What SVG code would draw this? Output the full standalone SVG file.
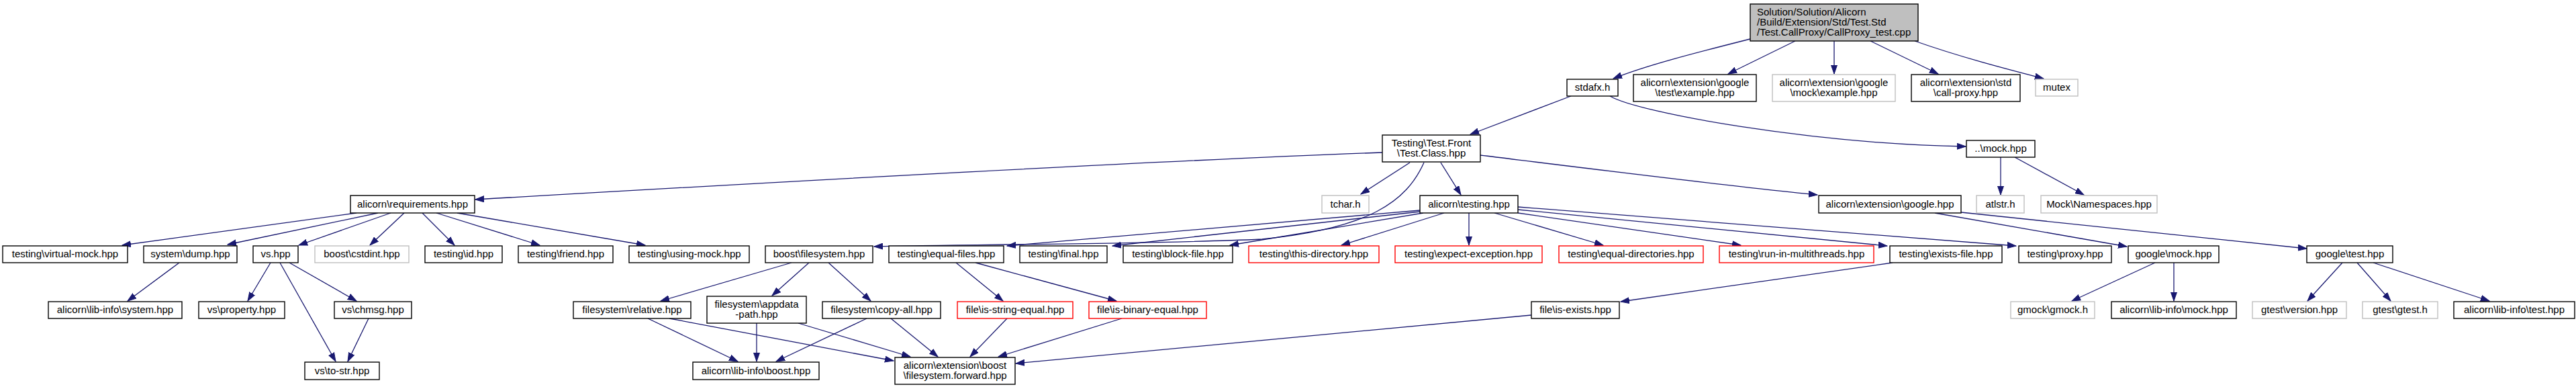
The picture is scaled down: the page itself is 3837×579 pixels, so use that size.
<svg xmlns="http://www.w3.org/2000/svg" width="3837" height="579" viewBox="0 0 3837 579">
<style>
rect{fill:#fff;stroke:#000;stroke-width:1.4}
.g rect{stroke:#bfbfbf}
.r rect{stroke:#ff0000}
.root rect{fill:#bfbfbf}
text{font-family:"Liberation Sans",Arial,sans-serif;font-size:15px;fill:#000;text-anchor:middle}
.root text{text-anchor:start}
#edges path{fill:none;stroke:#191970;stroke-width:1.3;marker-end:url(#a)}
</style>
<defs>
<marker id="a" markerUnits="userSpaceOnUse" markerWidth="14" markerHeight="10" refX="13" refY="5" orient="auto">
<path d="M0,0.5 L13,5 L0,9.5 z" fill="#191970" stroke="#191970" stroke-width="1"/>
</marker>
</defs>
<rect x="0" y="0" width="3837" height="579" style="fill:#fff;stroke:none"/>
<g id="edges">
<path d="M2607,58 C2520,80 2450,98 2403,117"/>
<path d="M2674,61 L2574,110"/>
<path d="M2732,61 L2732,110"/>
<path d="M2786,61 L2887,110"/>
<path d="M2852,61 C2920,85 2990,103 3044,117"/>
<path d="M2340,143 L2190,200"/>
<path d="M2398,143 C2440,168 2700,214 2928,218"/>
<path d="M2980,234 L2980,290"/>
<path d="M3001,234 L3104,290"/>
<path d="M2059,227 C1700,240 1000,280 708,297"/>
<path d="M2100,242 L2027,289"/>
<path d="M2146,242 L2176,290"/>
<path d="M2205,231 C2400,255 2600,280 2707,290"/>
<path d="M2121,242 C2095,300 2040,340 1880,356 C1700,364 1400,364 1302,367"/>
<path d="M2115,313 L1500,366"/>
<path d="M2115,315 L1657,366"/>
<path d="M2120,317 L1832,365"/>
<path d="M2151,317 L1998,365"/>
<path d="M2188,317 L2188,365"/>
<path d="M2226,317 L2388,365"/>
<path d="M2261,317 L2593,365"/>
<path d="M2261,312 L2811,366"/>
<path d="M2261,308 L3003,366"/>
<path d="M531,317 L182,365"/>
<path d="M563,317 L339,364"/>
<path d="M582,317 L445,365"/>
<path d="M602,317 L551,365"/>
<path d="M629,317 L677,365"/>
<path d="M650,317 L804,365"/>
<path d="M681,317 L961,365"/>
<path d="M267,391 L190,448"/>
<path d="M403,391 L369,448"/>
<path d="M417,391 L500,538"/>
<path d="M431,391 L531,448"/>
<path d="M549,474 L518,538"/>
<path d="M1179,391 L984,448"/>
<path d="M1205,391 L1150,440"/>
<path d="M1234,391 L1297,448"/>
<path d="M965,474 L1099,538"/>
<path d="M997,474 L1331,537"/>
<path d="M1127,481 L1127,538"/>
<path d="M1189,481 L1356,531"/>
<path d="M1291,474 L1156,538"/>
<path d="M1327,474 L1397,531"/>
<path d="M1424,391 L1494,448"/>
<path d="M1453,391 L1663,448"/>
<path d="M1500,474 L1445,531"/>
<path d="M1671,474 L1487,531"/>
<path d="M2281,469 L1513,541"/>
<path d="M2819,391 L2414,449"/>
<path d="M2882,317 L3168,367"/>
<path d="M2921,316 L3436,370"/>
<path d="M3210,391 L3086,448"/>
<path d="M3238,391 L3238,448"/>
<path d="M3489,391 L3437,448"/>
<path d="M3511,391 L3561,448"/>
<path d="M3535,391 L3708,448"/>
</g>
<g id="root" class="root"><rect x="2607" y="6" width="250" height="55"/><text x="2617" y="23">Solution/Solution/Alicorn</text><text x="2617" y="38">/Build/Extension/Std/Test.Std</text><text x="2617" y="53">/Test.CallProxy/CallProxy_test.cpp</text></g>
<g id="stdafx"><rect x="2334" y="118" width="76" height="25"/><text x="2372" y="135">stdafx.h</text></g>
<g id="gtexample"><rect x="2433" y="111" width="183" height="40"/><text x="2524.5" y="128">alicorn\extension\google</text><text x="2524.5" y="143">\test\example.hpp</text></g>
<g id="gmexample" class="g"><rect x="2640" y="111" width="183" height="40"/><text x="2731.5" y="128">alicorn\extension\google</text><text x="2731.5" y="143">\mock\example.hpp</text></g>
<g id="callproxy"><rect x="2847" y="111" width="162" height="40"/><text x="2928" y="128">alicorn\extension\std</text><text x="2928" y="143">\call-proxy.hpp</text></g>
<g id="mutex" class="g"><rect x="3032" y="118" width="63" height="25"/><text x="3063.5" y="135">mutex</text></g>
<g id="testclass"><rect x="2059" y="201" width="146" height="40"/><text x="2132" y="218">Testing\Test.Front</text><text x="2132" y="233">\Test.Class.hpp</text></g>
<g id="mock"><rect x="2929" y="209" width="102" height="25"/><text x="2980" y="226">..\mock.hpp</text></g>
<g id="requirements"><rect x="522" y="291" width="185" height="26"/><text x="614.5" y="309">alicorn\requirements.hpp</text></g>
<g id="tchar" class="g"><rect x="1969" y="291" width="70" height="26"/><text x="2004" y="309">tchar.h</text></g>
<g id="testing"><rect x="2115" y="291" width="146" height="26"/><text x="2188" y="309">alicorn\testing.hpp</text></g>
<g id="google"><rect x="2709" y="291" width="212" height="26"/><text x="2815" y="309">alicorn\extension\google.hpp</text></g>
<g id="atlstr" class="g"><rect x="2944" y="291" width="71" height="26"/><text x="2979.5" y="309">atlstr.h</text></g>
<g id="namespaces" class="g"><rect x="3040" y="291" width="173" height="26"/><text x="3126.5" y="309">Mock\Namespaces.hpp</text></g>
<g id="virtualmock"><rect x="4" y="366" width="186" height="25"/><text x="97" y="383">testing\virtual-mock.hpp</text></g>
<g id="dump"><rect x="214" y="366" width="139" height="25"/><text x="283.5" y="383">system\dump.hpp</text></g>
<g id="vs"><rect x="377" y="366" width="67" height="25"/><text x="410.5" y="383">vs.hpp</text></g>
<g id="cstdint" class="g"><rect x="469" y="366" width="140" height="25"/><text x="539" y="383">boost\cstdint.hpp</text></g>
<g id="id"><rect x="633" y="366" width="115" height="25"/><text x="690.5" y="383">testing\id.hpp</text></g>
<g id="friend"><rect x="772" y="366" width="141" height="25"/><text x="842.5" y="383">testing\friend.hpp</text></g>
<g id="usingmock"><rect x="937" y="366" width="179" height="25"/><text x="1026.5" y="383">testing\using-mock.hpp</text></g>
<g id="bfs"><rect x="1140" y="366" width="160" height="25"/><text x="1220" y="383">boost\filesystem.hpp</text></g>
<g id="equalfiles"><rect x="1324" y="366" width="171" height="25"/><text x="1409.5" y="383">testing\equal-files.hpp</text></g>
<g id="final"><rect x="1519" y="366" width="130" height="25"/><text x="1584" y="383">testing\final.hpp</text></g>
<g id="blockfile"><rect x="1673" y="366" width="163" height="25"/><text x="1754.5" y="383">testing\block-file.hpp</text></g>
<g id="thisdir" class="r"><rect x="1860" y="366" width="194" height="25"/><text x="1957" y="383">testing\this-directory.hpp</text></g>
<g id="expectexc" class="r"><rect x="2078" y="366" width="219" height="25"/><text x="2187.5" y="383">testing\expect-exception.hpp</text></g>
<g id="equaldirs" class="r"><rect x="2322" y="366" width="215" height="25"/><text x="2429.5" y="383">testing\equal-directories.hpp</text></g>
<g id="runmt" class="r"><rect x="2561" y="366" width="230" height="25"/><text x="2676" y="383">testing\run-in-multithreads.hpp</text></g>
<g id="existsfile"><rect x="2815" y="366" width="167" height="25"/><text x="2898.5" y="383">testing\exists-file.hpp</text></g>
<g id="proxy"><rect x="3007" y="366" width="138" height="25"/><text x="3076" y="383">testing\proxy.hpp</text></g>
<g id="gmock"><rect x="3170" y="366" width="135" height="25"/><text x="3237.5" y="383">google\mock.hpp</text></g>
<g id="gtest"><rect x="3436" y="366" width="128" height="25"/><text x="3500" y="383">google\test.hpp</text></g>
<g id="libsystem"><rect x="72" y="449" width="199" height="25"/><text x="171.5" y="466">alicorn\lib-info\system.hpp</text></g>
<g id="property"><rect x="296" y="449" width="128" height="25"/><text x="360" y="466">vs\property.hpp</text></g>
<g id="chmsg"><rect x="498" y="449" width="115" height="25"/><text x="555.5" y="466">vs\chmsg.hpp</text></g>
<g id="relative"><rect x="854" y="449" width="175" height="25"/><text x="941.5" y="466">filesystem\relative.hpp</text></g>
<g id="appdata"><rect x="1053" y="441" width="148" height="40"/><text x="1127" y="458">filesystem\appdata</text><text x="1127" y="473">-path.hpp</text></g>
<g id="copyall"><rect x="1225" y="449" width="176" height="25"/><text x="1313" y="466">filesystem\copy-all.hpp</text></g>
<g id="isstring" class="r"><rect x="1426" y="449" width="172" height="25"/><text x="1512" y="466">file\is-string-equal.hpp</text></g>
<g id="isbinary" class="r"><rect x="1622" y="449" width="175" height="25"/><text x="1709.5" y="466">file\is-binary-equal.hpp</text></g>
<g id="isexists"><rect x="2281" y="449" width="131" height="25"/><text x="2346.5" y="466">file\is-exists.hpp</text></g>
<g id="gmockh" class="g"><rect x="2995" y="449" width="125" height="25"/><text x="3057.5" y="466">gmock\gmock.h</text></g>
<g id="libmock"><rect x="3145" y="449" width="186" height="25"/><text x="3238" y="466">alicorn\lib-info\mock.hpp</text></g>
<g id="gtestver" class="g"><rect x="3355" y="449" width="140" height="25"/><text x="3425" y="466">gtest\version.hpp</text></g>
<g id="gtesth" class="g"><rect x="3519" y="449" width="112" height="25"/><text x="3575" y="466">gtest\gtest.h</text></g>
<g id="libtest"><rect x="3655" y="449" width="180" height="25"/><text x="3745" y="466">alicorn\lib-info\test.hpp</text></g>
<g id="tostr"><rect x="454" y="539" width="111" height="26"/><text x="509.5" y="557">vs\to-str.hpp</text></g>
<g id="libboost"><rect x="1032" y="539" width="188" height="26"/><text x="1126" y="557">alicorn\lib-info\boost.hpp</text></g>
<g id="fsforward"><rect x="1333" y="532" width="179" height="40"/><text x="1422.5" y="549">alicorn\extension\boost</text><text x="1422.5" y="564">\filesystem.forward.hpp</text></g>
</svg>
